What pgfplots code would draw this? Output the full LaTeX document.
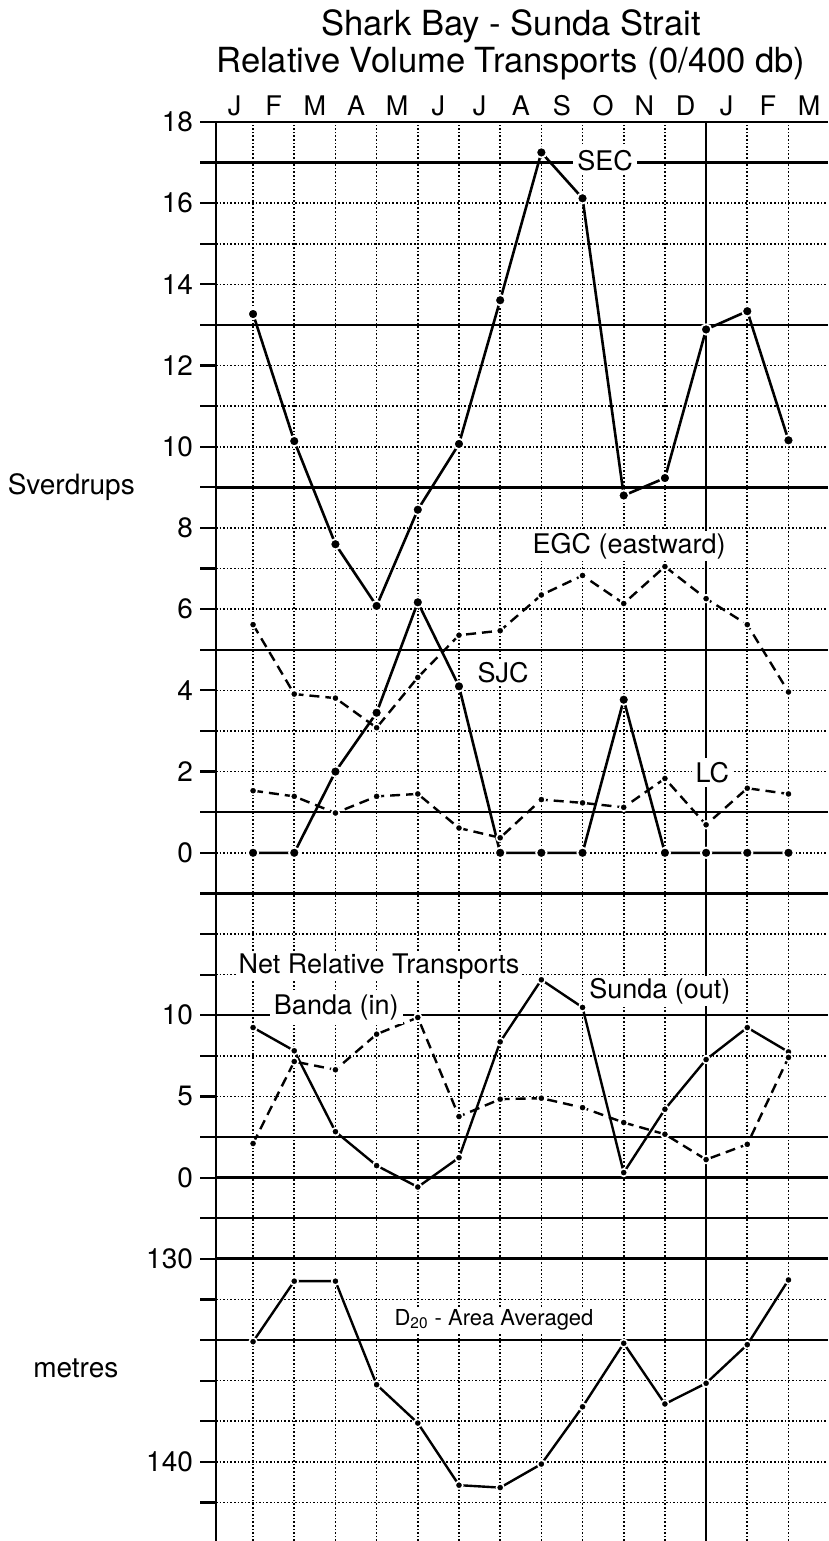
\documentclass[border=0pt]{standalone}
\usepackage{fontspec}
\setmainfont{TeX Gyre Heros}
\usepackage{pgfplots}
\usepackage{pgfplotstable}
\pgfplotsset{compat=1.18}

% upper panel, Sverdrups
\pgfplotstableread{
i  sec    sjc   egc   lc
0  13.27  0     5.62  1.53
1  10.14  0     3.91  1.39
2  7.60   2.00  3.81  0.98
3  6.08   3.45  3.08  1.39
4  8.45   6.17  4.32  1.45
5  10.07  4.10  5.36  0.61
6  13.61  0     5.47  0.37
7  17.25  0     6.35  1.31
8  16.12  0     6.83  1.23
9  8.80   3.77  6.14  1.12
10 9.23   0     7.05  1.83
11 12.89  0     6.26  0.69
12 13.34  0     5.62  1.59
13 10.16  0     3.96  1.45
}\svtab

% net transports (Sv) and D20 (m)
\pgfplotstableread{
i  sunda  banda  dtw
0  9.24   2.10   134.08
1  7.81   7.15   131.10
2  2.83   6.64   131.10
3  0.74   8.83   136.20
4  -0.58  9.86   138.09
5  1.23   3.76   141.15
6  8.36   4.83   141.27
7  12.18  4.89   140.11
8  10.48  4.31   137.29
9  0.31   3.39   134.16
10 4.21   2.67   137.15
11 7.27   1.11   136.13
12 9.24   2.05   134.23
13 7.74   7.40   131.04
}\nettab

\newcommand\lab{\fontsize{13.5}{16}\selectfont}
\newcommand\mon{\fontsize{13.5}{16}\selectfont}

\begin{document}
\begin{tikzpicture}
\begin{axis}[
  scale only axis,
  width=306pt, height=709.5pt,
  xmin=-0.9, xmax=13.96,
  ymin=-16.95, ymax=18,
  axis x line*=top, axis y line*=left,
  axis line style={line width=1.4pt},
  clip=false,
  xtick={0,...,13}, xticklabels={},
  x tick style={draw=none},
  xmajorgrids, ymajorgrids,
  major grid style={black, line width=0.8pt, dash pattern=on 0.8pt off 1pt},
  ytick={-16,...,18},
  yticklabels={,140,,,,,130,,0,,5,,10,,,,0,,2,,4,,6,,8,,10,,12,,14,,16,,18},
  tick align=outside, major tick length=8pt,
  y tick style={line width=1.1pt, black},
  yticklabel style={font=\fontsize{14}{16}\selectfont, anchor=east},
  /pgf/number format/assume math mode=true,
]
% solid ruling
\pgfplotsinvokeforeach{17,13,9,5,1,-1,-4,-7,-9,-12}{
  \draw[line width=1.25pt] (axis cs:-0.9,#1) -- (axis cs:13.96,#1);
}
\draw[line width=1.5pt] (axis cs:-0.9,-8) -- (axis cs:13.96,-8);
\draw[line width=1.5pt] (axis cs:-0.9,-10) -- (axis cs:13.96,-10);
\draw[line width=1.3pt] (axis cs:11,-16.95) -- (axis cs:11,18);

% Sverdrups panel
\addplot[black, line width=1.3pt, mark=*, mark size=2.6pt,
  mark options={fill=black, draw=white, line width=0.9pt}]
  table[x=i, y=sec] {\svtab};
\addplot[black, line width=1.3pt, mark=*, mark size=2.6pt,
  mark options={fill=black, draw=white, line width=0.9pt}]
  table[x=i, y=sjc] {\svtab};
\addplot[black, line width=1.2pt, dash pattern=on 5pt off 3pt, mark=*, mark size=1.9pt,
  mark options={solid, fill=black, draw=white, line width=0.8pt}]
  table[x=i, y=egc] {\svtab};
\addplot[black, line width=1.2pt, dash pattern=on 5pt off 3pt, mark=*, mark size=1.9pt,
  mark options={solid, fill=black, draw=white, line width=0.8pt}]
  table[x=i, y=lc] {\svtab};

% net relative transports: 0 Sv at -8, 2.5 Sv per rule
\addplot[black, line width=1.2pt, mark=*, mark size=1.9pt,
  mark options={fill=black, draw=white, line width=0.8pt}]
  table[x=i, y expr=-8+0.4*\thisrow{sunda}] {\nettab};
\addplot[black, line width=1.2pt, dash pattern=on 5pt off 3pt, mark=*, mark size=1.9pt,
  mark options={solid, fill=black, draw=white, line width=0.8pt}]
  table[x=i, y expr=-8+0.4*\thisrow{banda}] {\nettab};

% D20: 130 m at -10, 2 m per rule, downward
\addplot[black, line width=1.2pt, mark=*, mark size=1.9pt,
  mark options={fill=black, draw=white, line width=0.8pt}]
  table[x=i, y expr=-10-(\thisrow{dtw}-130)/2] {\nettab};

% series labels
\node[fill=white, inner sep=2pt, font=\lab] at (axis cs:8.55,17.05) {SEC};
\node[fill=white, inner sep=1pt, font=\lab] at (axis cs:9.13,7.55) {EGC (eastward)};
\node[fill=white, inner sep=1pt, font=\lab] at (axis cs:6.07,4.44) {SJC};
\node[fill=white, inner sep=2pt, font=\lab] at (axis cs:11.15,1.98) {LC};
\node[fill=white, inner sep=1pt, font=\lab] at (axis cs:3.06,-2.8) {Net Relative Transports};
\node[fill=white, inner sep=2pt, font=\lab] at (axis cs:2.02,-3.8) {Banda (in)};
\node[fill=white, inner sep=1pt, font=\lab] at (axis cs:9.88,-3.41) {Sunda (out)};
\node[fill=white, inner sep=1pt, font=\fontsize{11}{13}\selectfont] at (axis cs:5.85,-11.5) {D\textsubscript{20} - Area Averaged};

% months along the top
\node[anchor=base, font=\mon] at (axis cs:-0.45,18.17) {J};
\node[anchor=base, font=\mon] at (axis cs:0.5,18.17) {F};
\node[anchor=base, font=\mon] at (axis cs:1.5,18.17) {M};
\node[anchor=base, font=\mon] at (axis cs:2.5,18.17) {A};
\node[anchor=base, font=\mon] at (axis cs:3.5,18.17) {M};
\node[anchor=base, font=\mon] at (axis cs:4.5,18.17) {J};
\node[anchor=base, font=\mon] at (axis cs:5.5,18.17) {J};
\node[anchor=base, font=\mon] at (axis cs:6.5,18.17) {A};
\node[anchor=base, font=\mon] at (axis cs:7.5,18.17) {S};
\node[anchor=base, font=\mon] at (axis cs:8.5,18.17) {O};
\node[anchor=base, font=\mon] at (axis cs:9.5,18.17) {N};
\node[anchor=base, font=\mon] at (axis cs:10.5,18.17) {D};
\node[anchor=base, font=\mon] at (axis cs:11.5,18.17) {J};
\node[anchor=base, font=\mon] at (axis cs:12.5,18.17) {F};
\node[anchor=base, font=\mon] at (axis cs:13.5,18.17) {M};

% titles and axis names
\node[anchor=base, font=\fontsize{17.3}{20}\selectfont] at (axis cs:6.26,20.12) {Shark Bay - Sunda Strait};
\node[anchor=base, font=\fontsize{17.3}{20}\selectfont] at (axis cs:6.26,19.23) {Relative Volume Transports (0/400 db)};
\node[anchor=east, font=\fontsize{14}{16}\selectfont] at (axis cs:-2.7,9) {Sverdrups};
\node[anchor=east, font=\fontsize{14}{16}\selectfont] at (axis cs:-3.1,-12.7) {metres};

\coordinate (BL) at (axis cs:-6.145,-16.95);
\coordinate (TR) at (axis cs:13.96,21.005);
\end{axis}
\pgfresetboundingbox
\path[use as bounding box] (BL) rectangle (TR);
\end{tikzpicture}
\end{document}
